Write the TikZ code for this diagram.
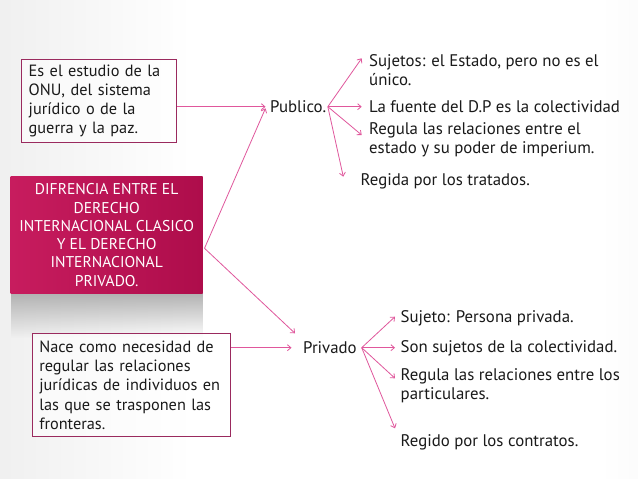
\documentclass[tikz,border=0pt]{standalone}
\usepackage{fontspec}
\setmainfont{PT Sans}
\usetikzlibrary{arrows.meta,fadings}
\definecolor{arrowpink}{HTML}{E0579C}
\definecolor{boxline}{HTML}{9A2A5E}
\definecolor{titleL}{HTML}{C71C5E}
\definecolor{titleR}{HTML}{AE0D4B}
\definecolor{txt}{HTML}{1A1A1A}
\definecolor{bgL}{HTML}{D6D6D6}
\definecolor{bgR}{HTML}{E0E0E0}
\pgfdeclarehorizontalshading{bgshade}{100bp}{color(0bp)=(bgL); color(40bp)=(white); color(72bp)=(white); color(100bp)=(bgR)}
\begin{document}
\begin{tikzpicture}[x=1pt,y=-1pt,
  every node/.style={font=\fontsize{16.8}{19}\selectfont, text=txt},
  arr/.style={draw=arrowpink, line width=0.8pt, -{Straight Barb[length=3.5pt,width=6pt]}},
  infobox/.style={draw=boxline, line width=1pt, fill=white, fill opacity=0.55, text opacity=1,
    align=left, inner xsep=7pt, inner ysep=0pt, anchor=center, font=\fontsize{16.3}{19.1}\selectfont},
  txtlabel/.style={align=left, inner sep=0pt, anchor=west},
  branch/.style={align=left, inner sep=1.5pt, anchor=west},
]
\useasboundingbox (0,0) rectangle (638,479);
\shade[shading=bgshade] (0,0) rectangle (638,479);

% reflection under title
\fill[black!30, path fading=south] (10.7,293.3) rectangle (202.7,338);

% boxes
\node[infobox, text width=141pt, minimum height=83.4pt] (b1) at (99.2,101)
  {Es el estudio de la\\ONU, del sistema\\jurídico o de la\\guerra y la paz.};
\node[draw=none, text=white, align=center, inner sep=0pt, left color=titleL, right color=titleR,
  minimum width=192pt, minimum height=116.6pt, font=\fontsize{15.6}{18.3}\selectfont] (title) at (106.7,235)
  {DIFRENCIA ENTRE EL\\DERECHO\\INTERNACIONAL CLASICO\\Y EL DERECHO\\INTERNACIONAL\\PRIVADO.};
\node[infobox, text width=184pt, minimum height=102.7pt] (b3) at (131.3,385.3)
  {Nace como necesidad de\\regular las relaciones\\jurídicas de individuos en\\las que se trasponen las\\fronteras.};

% branch nodes
\node[branch] (pub) at (268.5,106.7) {Publico.};
\node[branch] (priv) at (301.5,347.7) {Privado};

% Publico leaves
\node[txtlabel] (p1) at (369,70.5) {Sujetos: el Estado, pero no es el\\único.};
\node[txtlabel] (p2) at (369,106.5) {La fuente del D.P es la colectividad};
\node[txtlabel] (p3) at (369,140) {Regula las relaciones entre el\\estado y su poder de imperium.};
\node[txtlabel] (p4) at (360.5,181) {Regida por los tratados.};

% Privado leaves
\node[txtlabel] (q1) at (400.5,318.3) {Sujeto: Persona privada.};
\node[txtlabel] (q2) at (400.5,348.3) {Son sujetos de la colectividad.};
\node[txtlabel] (q3) at (400.5,386) {Regula las relaciones entre los\\particulares.};
\node[txtlabel] (q4) at (400.5,442) {Regido por los contratos.};

% coordinates
\coordinate (j) at (204.5,248.3);
\coordinate (pubtip) at (265.5,108.3);
\coordinate (privtip) at (295,333.3);
\coordinate (pt1) at (361.7,58.3);
\coordinate (pt2) at (361.7,106.7);
\coordinate (pt3) at (361.7,135);
\coordinate (pt4) at (343.3,176.7);
\coordinate (qo) at (361.7,347.7);
\coordinate (qt1) at (395,316.7);
\coordinate (qt2) at (395,347.7);
\coordinate (qt3) at (395,378.3);
\coordinate (qt4) at (395,428.3);

% connectors
\draw[arr, shorten >=3pt] (b1.east |- pub.west) -- (pub.west);
\draw[arr] (j) -- (pubtip);
\draw[arr] (j) -- (privtip);
\draw[arr, shorten >=10pt] (b3.east |- priv.west) -- (priv.west);

\draw[arr] (pub.east) -- (pt1);
\draw[arr] (pub.east) -- (pt2);
\draw[arr] (pub.east) -- (pt3);
\draw[arr] (pub.east) -- (pt4);

\draw[arr] (qo) -- (qt1);
\draw[arr] (qo) -- (qt2);
\draw[arr] (qo) -- (qt3);
\draw[arr] (qo) -- (qt4);
\end{tikzpicture}
\end{document}
